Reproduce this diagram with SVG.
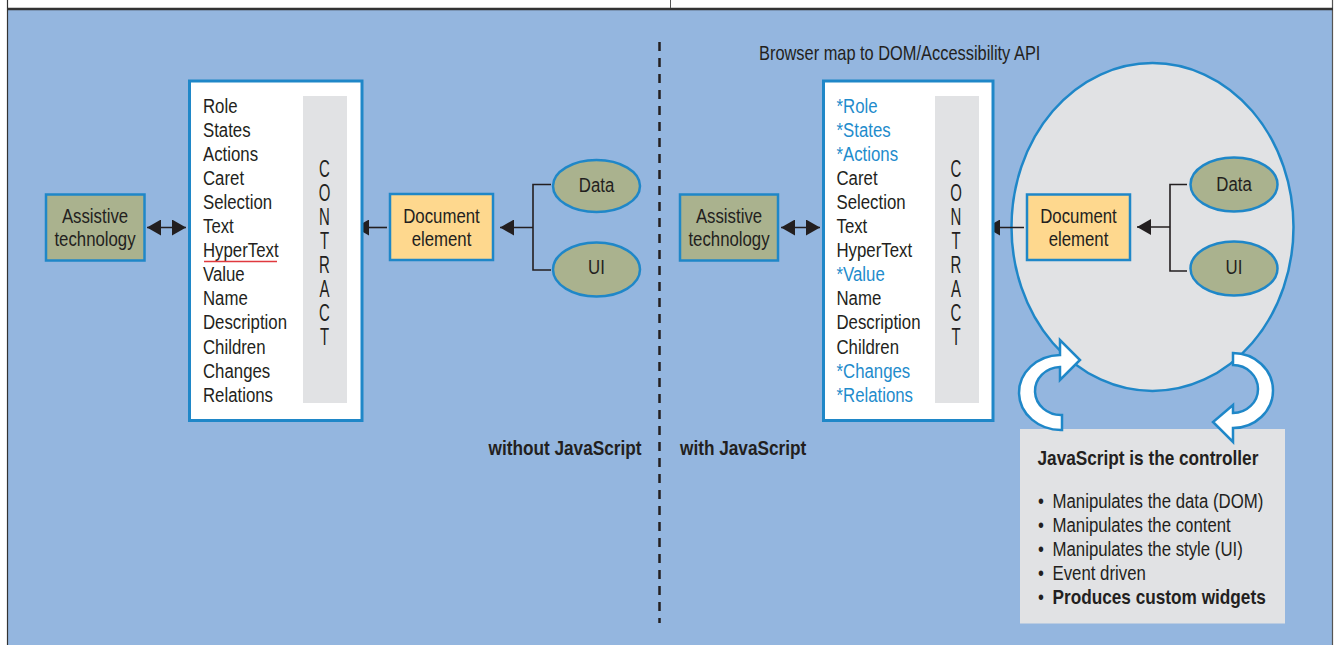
<svg xmlns="http://www.w3.org/2000/svg" width="1339" height="645" viewBox="0 0 1339 645">
  <style>
    text { font-family: "Liberation Sans", Arial, sans-serif; fill: #231f20; font-size: 21px; }
    .b { font-weight: bold; font-size: 21px; }
    .c { text-anchor: middle; }
    .e { text-anchor: end; }
    .hl { fill: #1f8ccc; }
    .lbl { font-size: 20.5px; }
    .ltr { font-size: 23px; text-anchor: middle; }
    .box { stroke: #1f87c8; stroke-width: 2.5; }
    .at { fill: #aab28e; }
    .doc { fill: #fed88e; }
    .card { fill: #ffffff; stroke: #1f87c8; stroke-width: 3; }
    .band { fill: #e1e2e4; }
    .line { stroke: #231f20; stroke-width: 1.6; fill: none; }
    .turn { fill: #ffffff; stroke: #1f87c8; stroke-width: 2.5; stroke-linejoin: miter; }
  </style>
  <defs>
    <marker id="ah" viewBox="0 0 14 16" refX="14" refY="8" markerWidth="14" markerHeight="16" markerUnits="userSpaceOnUse" orient="auto-start-reverse">
      <path d="M0,0 L14,8 L0,16 Z" fill="#231f20"/>
    </marker>
  </defs>

  <!-- page frame -->
  <rect x="0" y="0" width="1339" height="645" fill="#ffffff"/>
  <rect x="8" y="10" width="1324" height="635" fill="#94b6df"/>
  <line x1="7.5" y1="0" x2="7.5" y2="645" stroke="#333" stroke-width="1.2"/>
  <line x1="1332.5" y1="0" x2="1332.5" y2="645" stroke="#555" stroke-width="1.2"/>
  <line x1="7" y1="9" x2="1333" y2="9" stroke="#333" stroke-width="2.5"/>
  <line x1="670.5" y1="0" x2="670.5" y2="8" stroke="#555" stroke-width="1"/>

  <!-- divider between the two cases -->
  <line x1="659.5" y1="42" x2="659.5" y2="623" stroke="#231f20" stroke-width="2.5" stroke-dasharray="9 7"/>
  <text class="b e" transform="translate(641.5 455) scale(.82 1)">without JavaScript</text>
  <text class="b" transform="translate(680 455) scale(.82 1)">with JavaScript</text>
  <text class="lbl" transform="translate(759 60) scale(.8 1)">Browser map to DOM/Accessibility API</text>

  <!-- script controller ellipse (behind its contents) -->
  <g id="controller-scope">
    <ellipse cx="1152.5" cy="227" rx="141" ry="164" fill="#e1e2e4" stroke="#1f87c8" stroke-width="2.5"/>
  </g>

  <!-- connectors -->
  <g id="connectors">
    <line class="line" x1="147" y1="227.5" x2="186" y2="227.5" marker-start="url(#ah)" marker-end="url(#ah)"/>
    <line class="line" x1="298" y1="227.5" x2="269" y2="227.5" marker-end="url(#ah)"/>
    <line class="line" x1="387" y1="227.5" x2="355" y2="227.5" marker-end="url(#ah)"/>
    <line class="line" x1="533" y1="227.5" x2="500" y2="227.5" marker-end="url(#ah)"/>
    <polyline class="line" points="551,184.5 533,184.5 533,270 551,270"/>

    <line class="line" x1="781" y1="227.5" x2="820" y2="227.5" marker-start="url(#ah)" marker-end="url(#ah)"/>
    <line class="line" x1="931" y1="227.5" x2="903" y2="227.5" marker-end="url(#ah)"/>
    <line class="line" x1="1024" y1="227.5" x2="986" y2="227.5" marker-end="url(#ah)"/>
    <line class="line" x1="1170" y1="227" x2="1137" y2="227" marker-end="url(#ah)"/>
    <polyline class="line" points="1187,184.5 1170,184.5 1170,271 1187,271"/>
  </g>

  <!-- left case: without JavaScript -->
  <g id="assistive-left">
    <rect class="box at" x="46" y="194.5" width="98.5" height="66"/>
    <text class="c" transform="translate(95 222.7) scale(.8 1)">Assistive</text>
    <text class="c" transform="translate(95 245.7) scale(.8 1)">technology</text>
  </g>

  <g id="contract-left">
    <rect class="card" x="189.5" y="81" width="172.5" height="339.5"/>
    <rect class="band" x="303" y="96" width="44" height="307"/>
    <text transform="translate(203 112.7) scale(.8 1)">Role</text>
    <text transform="translate(203 136.8) scale(.8 1)">States</text>
    <text transform="translate(203 160.9) scale(.8 1)">Actions</text>
    <text transform="translate(203 184.9) scale(.8 1)">Caret</text>
    <text transform="translate(203 209) scale(.8 1)">Selection</text>
    <text transform="translate(203 233.1) scale(.8 1)">Text</text>
    <text transform="translate(203 257.2) scale(.8 1)">HyperText</text>
    <line x1="204" y1="261.5" x2="277" y2="261.5" stroke="#e0393e" stroke-width="1.3"/>
    <text transform="translate(203 281.3) scale(.8 1)">Value</text>
    <text transform="translate(203 305.3) scale(.8 1)">Name</text>
    <text transform="translate(203 329.4) scale(.8 1)">Description</text>
    <text transform="translate(203 353.5) scale(.8 1)">Children</text>
    <text transform="translate(203 377.6) scale(.8 1)">Changes</text>
    <text transform="translate(203 401.7) scale(.8 1)">Relations</text>
    <text class="ltr" transform="translate(324.5 176.7) scale(.65 1)">C</text>
    <text class="ltr" transform="translate(324.5 200.7) scale(.65 1)">O</text>
    <text class="ltr" transform="translate(324.5 224.8) scale(.65 1)">N</text>
    <text class="ltr" transform="translate(324.5 248.8) scale(.65 1)">T</text>
    <text class="ltr" transform="translate(324.5 272.9) scale(.65 1)">R</text>
    <text class="ltr" transform="translate(324.5 296.9) scale(.65 1)">A</text>
    <text class="ltr" transform="translate(324.5 320.9) scale(.65 1)">C</text>
    <text class="ltr" transform="translate(324.5 345) scale(.65 1)">T</text>
  </g>

  <g id="document-left">
    <rect class="box doc" x="390" y="194" width="103" height="66"/>
    <text class="c" transform="translate(441.5 222.7) scale(.8 1)">Document</text>
    <text class="c" transform="translate(441.5 246) scale(.8 1)">element</text>
  </g>

  <g id="data-left">
    <ellipse class="box at" cx="596.5" cy="186" rx="43.5" ry="26"/>
    <text class="c" transform="translate(596.5 192) scale(.8 1)">Data</text>
  </g>

  <g id="ui-left">
    <ellipse class="box at" cx="596.5" cy="269.5" rx="43.5" ry="27"/>
    <text class="c" transform="translate(596.5 274) scale(.8 1)">UI</text>
  </g>

  <!-- right case: with JavaScript -->
  <g id="assistive-right">
    <rect class="box at" x="680" y="194.5" width="98" height="66"/>
    <text class="c" transform="translate(729 222.7) scale(.8 1)">Assistive</text>
    <text class="c" transform="translate(729 245.7) scale(.8 1)">technology</text>
  </g>

  <g id="contract-right">
    <rect class="card" x="823.5" y="81" width="169.5" height="339.5"/>
    <rect class="band" x="935" y="96" width="44" height="307"/>
    <text class="hl" transform="translate(836.5 112.7) scale(.8 1)">*Role</text>
    <text class="hl" transform="translate(836.5 136.8) scale(.8 1)">*States</text>
    <text class="hl" transform="translate(836.5 160.9) scale(.8 1)">*Actions</text>
    <text transform="translate(836.5 184.9) scale(.8 1)">Caret</text>
    <text transform="translate(836.5 209) scale(.8 1)">Selection</text>
    <text transform="translate(836.5 233.1) scale(.8 1)">Text</text>
    <text transform="translate(836.5 257.2) scale(.8 1)">HyperText</text>
    <text class="hl" transform="translate(836.5 281.3) scale(.8 1)">*Value</text>
    <text transform="translate(836.5 305.3) scale(.8 1)">Name</text>
    <text transform="translate(836.5 329.4) scale(.8 1)">Description</text>
    <text transform="translate(836.5 353.5) scale(.8 1)">Children</text>
    <text class="hl" transform="translate(836.5 377.6) scale(.8 1)">*Changes</text>
    <text class="hl" transform="translate(836.5 401.7) scale(.8 1)">*Relations</text>
    <text class="ltr" transform="translate(956 176.7) scale(.65 1)">C</text>
    <text class="ltr" transform="translate(956 200.7) scale(.65 1)">O</text>
    <text class="ltr" transform="translate(956 224.8) scale(.65 1)">N</text>
    <text class="ltr" transform="translate(956 248.8) scale(.65 1)">T</text>
    <text class="ltr" transform="translate(956 272.9) scale(.65 1)">R</text>
    <text class="ltr" transform="translate(956 296.9) scale(.65 1)">A</text>
    <text class="ltr" transform="translate(956 320.9) scale(.65 1)">C</text>
    <text class="ltr" transform="translate(956 345) scale(.65 1)">T</text>
  </g>

  <g id="document-right">
    <rect class="box doc" x="1027" y="194.5" width="103" height="65.5"/>
    <text class="c" transform="translate(1078.5 222.7) scale(.8 1)">Document</text>
    <text class="c" transform="translate(1078.5 245.5) scale(.8 1)">element</text>
  </g>

  <g id="data-right">
    <ellipse class="box at" cx="1234" cy="184.5" rx="43.5" ry="27"/>
    <text class="c" transform="translate(1234 191) scale(.8 1)">Data</text>
  </g>

  <g id="ui-right">
    <ellipse class="box at" cx="1234" cy="268.5" rx="43.5" ry="27"/>
    <text class="c" transform="translate(1234 274) scale(.8 1)">UI</text>
  </g>

  <!-- controller notes -->
  <g id="controller-note">
    <rect class="band" x="1020" y="429" width="265" height="194.5"/>
    <text class="b" transform="translate(1037.5 465) scale(.82 1)">JavaScript is the controller</text>
    <text transform="translate(1038 508.3) scale(.8 1)">•</text>
    <text transform="translate(1052.5 508.3) scale(.8 1)">Manipulates the data (DOM)</text>
    <text transform="translate(1038 532.3) scale(.8 1)">•</text>
    <text transform="translate(1052.5 532.3) scale(.8 1)">Manipulates the content</text>
    <text transform="translate(1038 556.3) scale(.8 1)">•</text>
    <text transform="translate(1052.5 556.3) scale(.8 1)">Manipulates the style (UI)</text>
    <text transform="translate(1038 580.3) scale(.8 1)">•</text>
    <text transform="translate(1052.5 580.3) scale(.8 1)">Event driven</text>
    <text transform="translate(1038 604.3) scale(.8 1)">•</text>
    <text class="b" transform="translate(1052.5 604.3) scale(.82 1)">Produces custom widgets</text>
  </g>

  <!-- round-trip arrows between the script and the page -->
  <g id="cycle-arrows">
    <path class="turn" d="M1062,430 A42,37.5 0 0 1 1060,355 L1060,340 L1080,360 L1060,380 L1060,367 A26,24 0 0 0 1062,415 Z"/>
    <path class="turn" d="M1233,353 A40,37.5 0 0 1 1233,428 L1233,442 L1213,422 L1233,405 L1233,413 A25,24 0 0 0 1233,365 Z"/>
  </g>
</svg>
